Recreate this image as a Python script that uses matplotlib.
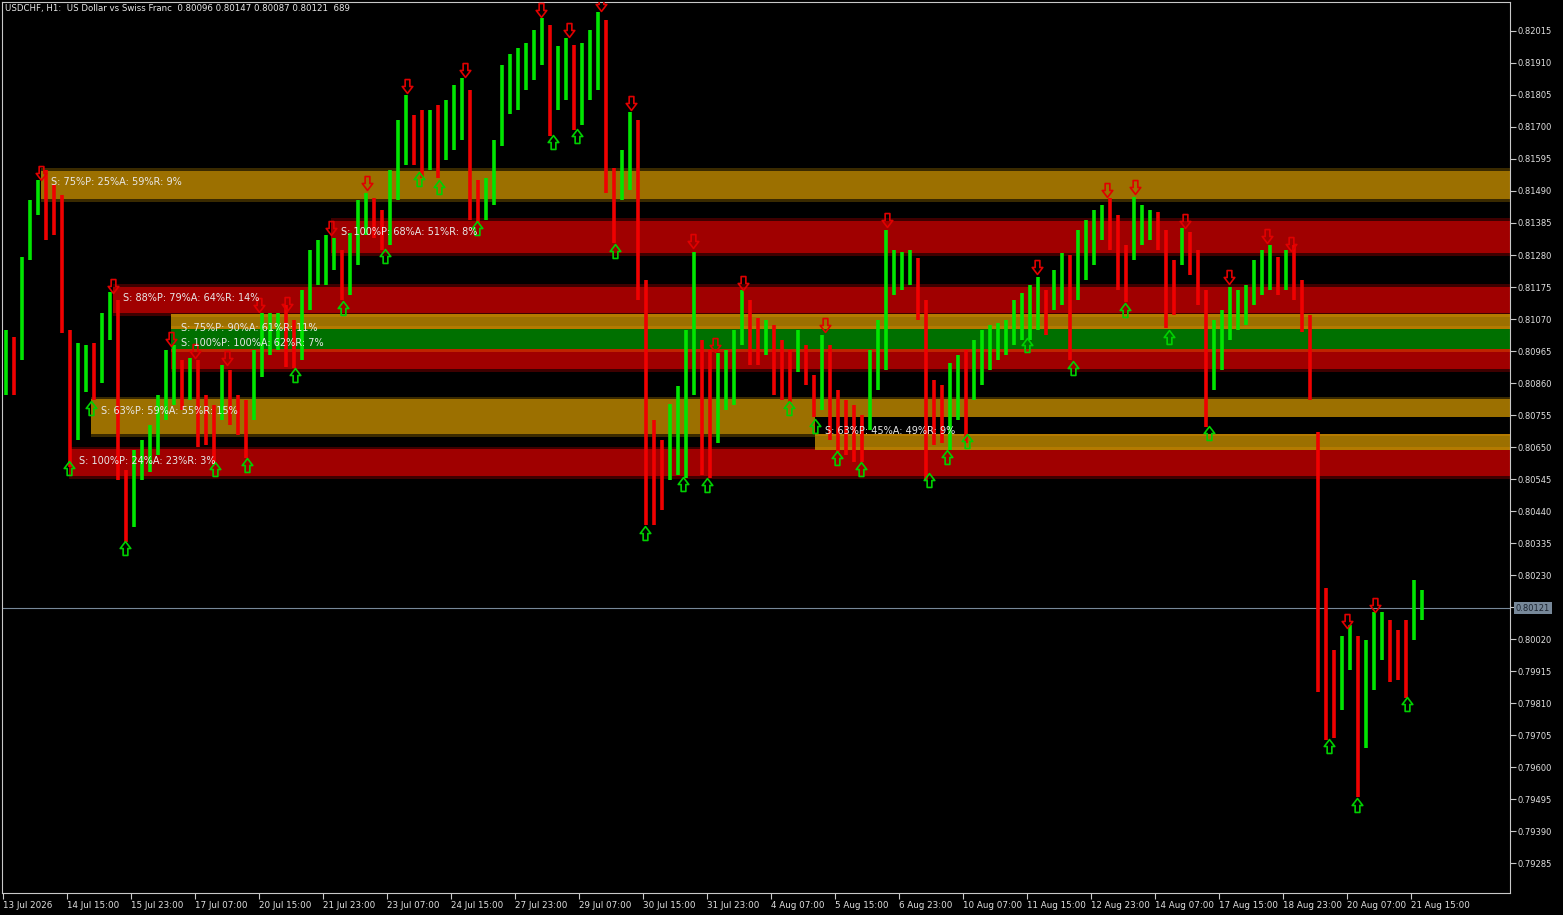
import matplotlib
matplotlib.use("Agg")
import matplotlib.pyplot as plt
import matplotlib.transforms as mtransforms
from matplotlib.path import Path
from matplotlib.patches import Rectangle
import numpy as np

# USDCHF H1 in 4-hour blocks (4 bars each), prices in points (1e-5)
highs = [81034, 81011, 81274, 81461, 81526, 81559, 81510, 81477, 81034, 80991,
         80985, 80991, 81090, 81159, 81133, 80575, 80641, 80673, 80723, 80821,
         80969, 80985, 80936, 80943, 80936, 80821, 80788, 80920, 80903, 80821,
         80805, 80969, 81090, 81090, 81090, 81116, 81067, 81165, 81297, 81330,
         81346, 81336, 81297, 81352, 81461, 81484, 81467, 81428, 81559, 81723,
         81806, 81740, 81756, 81756, 81773, 81789, 81838, 81861, 81822, 81526,
         81533, 81658, 81904, 81940, 81960, 81976, 82019, 82058, 82035, 81966,
         81992, 81969, 81976, 82019, 82078, 82051, 81566, 81625, 81750, 81723,
         81198, 80739, 80673, 80792, 80851, 81034, 81290, 81001, 80969, 80959,
         80969, 81034, 81165, 81133, 81074, 81067, 81051, 81001, 80969, 81034,
         80985, 80887, 81018, 80985, 80837, 80805, 80788, 80756, 80969, 81067,
         81362, 81297, 81290, 81297, 81271, 81133, 80870, 80854, 80926, 80952,
         80969, 81001, 81034, 81051, 81057, 81067, 81133, 81155, 81182, 81208,
         81165, 81231, 81287, 81280, 81362, 81395, 81428, 81444, 81467, 81412,
         81313, 81471, 81444, 81428, 81421, 81362, 81264, 81369, 81356, 81297,
         81165, 81067, 81100, 81175, 81165, 81182, 81264, 81297, 81313, 81274,
         81297, 81313, 81198, 81083, 80700, 80187, 79984, 80030, 80067, 80030,
         80017, 80109, 80109, 80083, 80050, 80083, 80214, 80181]
lows = [80821, 80821, 80936, 81264, 81412, 81330, 81346, 81024, 80585, 80673,
        80831, 80805, 80860, 81001, 80542, 80338, 80388, 80542, 80568, 80624,
        80739, 80788, 80772, 80805, 80651, 80657, 80591, 80739, 80723, 80690,
        80615, 80739, 80880, 80952, 80969, 80913, 80910, 80936, 81100, 81182,
        81182, 81231, 81133, 81149, 81248, 81346, 81336, 81297, 81313, 81461,
        81576, 81576, 81533, 81559, 81533, 81592, 81625, 81658, 81395, 81385,
        81395, 81444, 81638, 81743, 81756, 81822, 81855, 81904, 81671, 81756,
        81789, 81690, 81707, 81789, 81822, 81484, 81320, 81461, 81494, 81133,
        80394, 80394, 80444, 80542, 80559, 80549, 80821, 80559, 80549, 80664,
        80772, 80788, 80985, 80920, 80920, 80952, 80821, 80805, 80798, 80897,
        80854, 80749, 80772, 80673, 80634, 80624, 80601, 80601, 80706, 80837,
        80903, 81149, 81165, 81182, 81067, 80542, 80657, 80664, 80641, 80739,
        80664, 80805, 80854, 80903, 80936, 80952, 80985, 81001, 81001, 81034,
        81018, 81100, 81116, 80936, 81133, 81198, 81248, 81330, 81297, 81165,
        81126, 81264, 81313, 81330, 81297, 81041, 81083, 81248, 81215, 81116,
        80716, 80837, 80903, 81001, 81034, 81051, 81116, 81149, 81165, 81149,
        81165, 81133, 81028, 80805, 79846, 79689, 79696, 79787, 79919, 79502,
        79663, 79853, 79952, 79879, 79886, 79827, 80017, 80083]

# fractal arrows: bar index and fractal price
down_idx = [19, 55, 84, 96, 112, 128, 142, 164, 182, 202, 231, 269, 283, 299, 314,
            345, 356, 370, 411, 442, 517, 552, 566, 591, 613, 632, 644, 672, 686]
down_price = [81517, 81146, 80972, 80933, 80910, 81083, 81087, 81336, 81484, 81802,
              81855, 82051, 81986, 82071, 81746, 81293, 80952, 81155, 81018, 81362,
              81208, 81461, 81471, 81359, 81175, 81310, 81284, 80047, 80099]
up_idx = [33, 44, 61, 106, 122, 146, 170, 191, 208, 218, 237, 275, 287, 306, 321, 340,
          352, 393, 406, 417, 429, 463, 472, 482, 512, 535, 561, 583, 603, 663, 677, 702]
up_price = [80615, 80811, 80351, 80611, 80624, 80920, 81139, 81310, 81563, 81536,
            81402, 81684, 81704, 81326, 80401, 80562, 80559, 80811, 80752, 80648,
            80611, 80575, 80651, 80703, 81018, 80943, 81133, 81044, 80729, 79702,
            79509, 79840]

# supply / demand zones (drawing order as on the chart)
zone_start = [19, 55, 33, 44, 164, 84, 84, 84, 406, 406]
zone_top = [81566, 81185, 80651, 80815, 81402, 81087, 81037, 80972, 80750, 80694]
zone_bottom = [81454, 81080, 80546, 80683, 81277, 81037, 80972, 80897, 80694, 80640]
zone_kind = ["orange", "red", "red", "orange", "red", "orange_in", "green", "red_in",
             "black", "orange_in"]
zone_label = ["S: 75%P: 25%A: 59%R: 9%", "S: 88%P: 79%A: 64%R: 14%",
              "S: 100%P: 24%A: 23%R: 3%", "S: 63%P: 59%A: 55%R: 15%",
              "S: 100%P: 68%A: 51%R: 8%", "S: 75%P: 90%A: 61%R: 11%",
              "S: 100%P: 100%A: 62%R: 7%", "", "S: 63%P: 45%A: 49%R: 9%", ""]

price_ticks = [82015, 81910, 81805, 81700, 81595, 81490, 81385, 81280, 81175, 81070,
               80965, 80860, 80755, 80650, 80545, 80440, 80335, 80230, 80125, 80020,
               79915, 79810, 79705, 79600, 79495, 79390, 79285]
price_tick_labels = ["0.82015", "0.81910", "0.81805", "0.81700", "0.81595", "0.81490",
                     "0.81385", "0.81280", "0.81175", "0.81070", "0.80965", "0.80860",
                     "0.80755", "0.80650", "0.80545", "0.80440", "0.80335", "0.80230",
                     "", "0.80020", "0.79915", "0.79810", "0.79705", "0.79600",
                     "0.79495", "0.79390", "0.79285"]
time_labels = ["13 Jul 2026", "14 Jul 15:00", "15 Jul 23:00", "17 Jul 07:00", "20 Jul 15:00",
               "21 Jul 23:00", "23 Jul 07:00", "24 Jul 15:00", "27 Jul 23:00", "29 Jul 07:00",
               "30 Jul 15:00", "31 Jul 23:00", "4 Aug 07:00", "5 Aug 15:00", "6 Aug 23:00",
               "10 Aug 07:00", "11 Aug 15:00", "12 Aug 23:00", "14 Aug 07:00", "17 Aug 15:00",
               "18 Aug 23:00", "20 Aug 07:00", "21 Aug 15:00"]
last_price = 0.80121
title = "USDCHF, H1:  US Dollar vs Swiss Franc  0.80096 0.80147 0.80087 0.80121  689"

W, H = 1563, 915
fig = plt.figure(figsize=(W / 100, H / 100), dpi=100, facecolor="black")
ax = fig.add_axes([2 / W, 22 / H, 1508 / W, 891 / H])
ax.set_facecolor("black")
xmax = 753.5
ax.set_xlim(-0.5, xmax)
ax.set_ylim(0.79187, 0.82110)

fills = {"orange": "#9C7000", "red": "#A00000", "green": "#007000", "black": "#000000",
         "orange_in": "#9C7000", "red_in": "#A00000"}
edge_top = {"orange": "#3A2A00", "red": "#3E0000", "green": "#007000", "black": "#000000",
            "orange_in": "#B47A00", "red_in": "#C02400"}
edge_bot = {"orange": "#3A2A00", "red": "#3E0000", "green": "#007000", "black": "#000000",
            "orange_in": "#B47A00", "red_in": "#3E0000"}
band = 0.00009

for start, top, bot, kind, lab in zip(zone_start, zone_top, zone_bottom, zone_kind, zone_label):
    t, b = top / 1e5, bot / 1e5
    w = xmax - start
    ax.add_patch(Rectangle((start, b), w, band, facecolor=edge_bot[kind],
                           edgecolor="none", zorder=1))
    ax.add_patch(Rectangle((start, t - band), w, band, facecolor=edge_top[kind],
                           edgecolor="none", zorder=1))
    ax.add_patch(Rectangle((start, b + band), w, t - b - 2 * band,
                           facecolor=fills[kind], edgecolor="none", zorder=1))
    if lab:
        ax.annotate(lab, (start, t), xytext=(10, -14), textcoords="offset pixels",
                    color="#E8E8E8", fontsize=7, va="center", ha="left", zorder=6)

# current price line
ax.axhline(last_price, color="#778899", lw=0.8, zorder=2)

# bars
hi = np.array(highs) / 1e5
lo = np.array(lows) / 1e5
x = np.arange(len(hi)) * 4 + 1.5
mid = (hi + lo) / 2
rising = np.r_[True, np.diff(mid) >= 0]
ax.vlines(x[rising], lo[rising], hi[rising], colors="#00E600", lw=2.6, zorder=3)
ax.vlines(x[~rising], lo[~rising], hi[~rising], colors="#F00000", lw=2.6, zorder=3)

# fractal arrows
up_verts = [(-0.17, -0.5), (0.17, -0.5), (0.17, 0.0), (0.38, 0.0), (0.0, 0.5),
            (-0.38, 0.0), (-0.17, 0.0), (-0.17, -0.5)]
up_arrow = Path(up_verts, closed=True)
down_arrow = Path([(vx, -vy) for vx, vy in up_verts], closed=True)
above = ax.transData + mtransforms.ScaledTranslation(0, 0.10, fig.dpi_scale_trans)
below = ax.transData + mtransforms.ScaledTranslation(0, -0.10, fig.dpi_scale_trans)
ax.plot(down_idx, np.array(down_price) / 1e5, ls="none", marker=down_arrow, ms=10,
        mfc="none", mec="#E00000", mew=1.2, transform=above, zorder=5)
ax.plot(up_idx, np.array(up_price) / 1e5, ls="none", marker=up_arrow, ms=10,
        mfc="none", mec="#00D000", mew=1.2, transform=below, zorder=5)

# axes styling
for s in ax.spines.values():
    s.set_color("#C8C8C8")
    s.set_linewidth(0.8)
ax.yaxis.tick_right()
ax.set_yticks(np.array(price_ticks) / 1e5)
ax.set_yticklabels(price_tick_labels)
ax.set_xticks(np.arange(len(time_labels)) * 32)
ax.set_xticklabels(time_labels)
for t in ax.get_xticklabels():
    t.set_ha("left")
ax.tick_params(axis="y", direction="out", length=4, width=0.8, color="#C8C8C8",
               labelcolor="#E0E0E0", labelsize=6, pad=1.5)
ax.tick_params(axis="x", direction="out", length=4, width=0.8, color="#C8C8C8",
               labelcolor="#E0E0E0", labelsize=6.3, pad=1.5)

ax.annotate(f"{last_price:.5f}", xy=(1, last_price), xycoords=("axes fraction", "data"),
            xytext=(6, 0), textcoords="offset pixels", va="center", ha="left",
            fontsize=6, color="#1C2430", annotation_clip=False,
            bbox=dict(boxstyle="square,pad=0.2", fc="#778899", ec="none"))

fig.text(5 / W, 1 - 9 / H, title, color="#E8E8E8", fontsize=6.2, va="center", ha="left")

fig.savefig("out.png", dpi=100, facecolor="black")
